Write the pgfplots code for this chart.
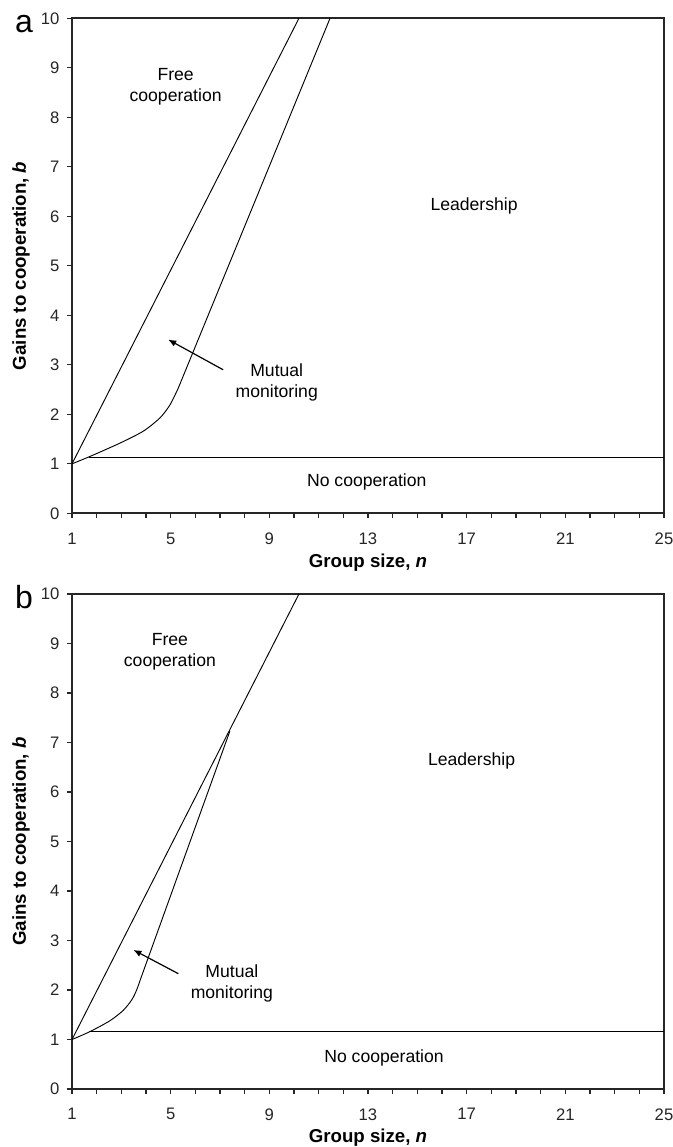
\documentclass[border=0pt]{standalone}
\usepackage{fontspec}
\setmainfont{Liberation Sans}
\usepackage{pgfplots}
\pgfplotsset{compat=1.18}
\usetikzlibrary{arrows.meta}

\newcommand{\fs}{\fontsize{13.2}{15.6}\selectfont}
\newcommand{\ft}{\fontsize{12.5}{14.6}\selectfont}
\newcommand{\fl}{\fontsize{14}{16.5}\selectfont}
\pgfplotsset{
  myaxis/.style={
    scale only axis, width=444pt, height=371.25pt,
    xmin=1, xmax=25, ymin=0, ymax=10,
    xtick={1,5,...,25}, minor x tick num=3,
    ytick={0,1,...,10},
    tick pos=left, tick align=outside,
    major tick length=3.5pt, minor tick length=3.5pt,
    every tick/.style={black!85, line width=0.9pt},
    every minor tick/.style={black!85, line width=0.9pt},
    axis line style={line width=1.3pt, black!85},
    tick label style={font=\ft, text=black!85},
    xticklabel style={yshift=-7.5pt},
    yticklabel style={xshift=-2.5pt},
    /pgf/number format/assume math mode=true,
    xlabel={\textbf{Group size, \textit{n}}},
    ylabel={\textbf{Gains to cooperation, \textit{b}}},
    label style={font=\fl},
    xlabel style={at={(axis description cs:0.5,-0.099)}, anchor=center},
    ylabel style={at={(axis description cs:-0.086,0.5)}, anchor=center},
    clip=false,
  },
  curve/.style={black, line width=0.7pt},
}

\begin{document}
\begin{tikzpicture}
\useasboundingbox (0,0) rectangle (504.75pt,-860.25pt);

% ---------------- Panel a ----------------
\begin{axis}[myaxis, at={(54pt,-385pt)}]
\addplot[curve] coordinates {(1,1) (10.2,10)};
\addplot[curve, smooth, tension=0.45] coordinates {
  (1,1) (1.73,1.15) (2.95,1.42) (3.89,1.66) (4.57,1.93) (4.97,2.19) (5.30,2.52)};
\addplot[curve] coordinates {(5.30,2.52) (11.46,10)};
\addplot[curve] coordinates {(1.70,1.13) (25,1.13)};
\draw[-{Latex[length=6pt,width=5pt]}, line width=0.9pt] (axis cs:7.13,2.90) -- (axis cs:4.90,3.51);
\node[align=center, font=\fs] at (axis cs:5.2,8.62) {Free\\cooperation};
\node[font=\fs] at (axis cs:17.3,6.2) {Leadership};
\node[align=center, font=\fs] at (axis cs:9.3,2.65) {Mutual\\monitoring};
\node[font=\fs] at (axis cs:12.95,0.63) {No cooperation};
\node[anchor=base, font=\fontsize{24}{26}\selectfont] at ([xshift=-36pt,yshift=-10.5pt]rel axis cs:0,1) {a};
\end{axis}

% ---------------- Panel b ----------------
\begin{axis}[myaxis, at={(54pt,-816.75pt)}]
\addplot[curve] coordinates {(1,1) (10.2,10)};
\addplot[curve, smooth, tension=0.45] coordinates {
  (1,1) (1.73,1.16) (2.54,1.38) (3.08,1.59) (3.42,1.80) (3.62,2.00) (3.80,2.25)};
\addplot[curve] coordinates {(3.80,2.25) (7.40,7.23)};
\addplot[curve] coordinates {(1.70,1.16) (25,1.16)};
\draw[-{Latex[length=6pt,width=5pt]}, line width=0.9pt] (axis cs:5.31,2.33) -- (axis cs:3.49,2.81);
\node[align=center, font=\fs] at (axis cs:4.97,8.83) {Free\\cooperation};
\node[font=\fs] at (axis cs:17.2,6.63) {Leadership};
\node[align=center, font=\fs] at (axis cs:7.48,2.14) {Mutual\\monitoring};
\node[font=\fs] at (axis cs:13.65,0.62) {No cooperation};
\node[anchor=base, font=\fontsize{24}{26}\selectfont] at ([xshift=-36pt,yshift=-11pt]rel axis cs:0,1) {b};
\end{axis}
\end{tikzpicture}
\end{document}
